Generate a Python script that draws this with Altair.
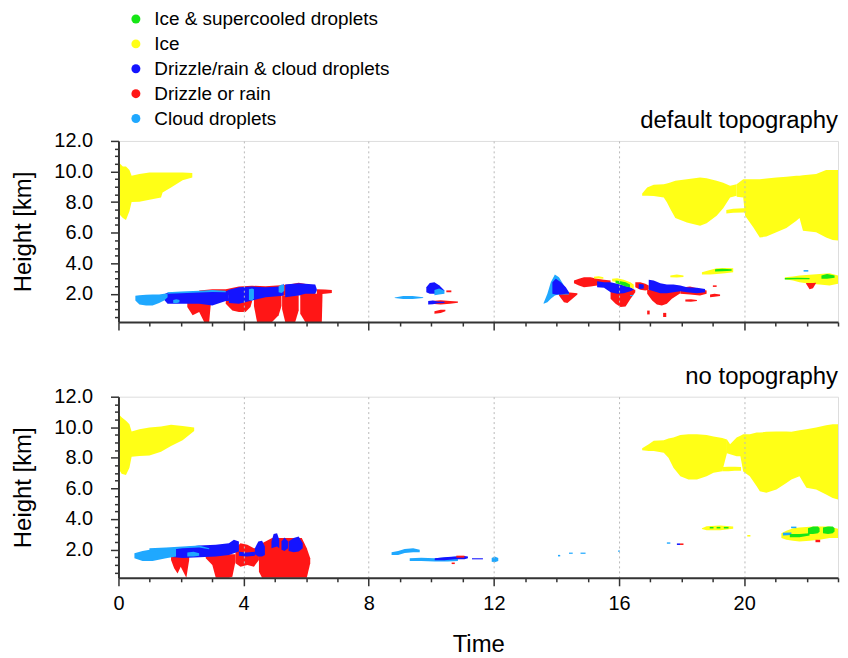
import altair as alt
import pandas as pd

# ---- categories / colours -------------------------------------------------
ICE_SC = "Ice & supercooled droplets"
ICE = "Ice"
DRZ_CLD = "Drizzle/rain & cloud droplets"
DRZ = "Drizzle or rain"
CLD = "Cloud droplets"
CATEGORIES = [ICE_SC, ICE, DRZ_CLD, DRZ, CLD]
COLORS = ["#16e616", "#ffff16", "#1414ff", "#ff1616", "#1fa8ff"]

PANEL_TITLES = ["default topography", "no topography"]

# each blob: (draw level, time [h], bottom height [km], top height [km])
TOP_ICE = [
    (0, [0, 0.05, 0.14, 0.24, 0.35, 0.42, 0.67, 0.99, 1.36, 1.41, 1.68, 2.05, 2.36],
        [7.3, 7.15, 6.95, 6.83, 7.4, 8.0, 8.02, 8.15, 8.3, 8.63, 8.96, 9.43, 9.6],
        [10.74, 10.5, 10.33, 10.33, 10.1, 9.72, 9.83, 9.93, 9.93, 9.93, 9.93, 9.93, 9.9]),
    (0, [16.74, 16.9, 17.11, 17.43, 17.53, 17.64, 17.8, 18.17, 18.59, 18.8, 19.12, 19.33, 19.55, 19.76],
        [8.41, 8.41, 8.39, 8.3, 7.98, 7.54, 6.95, 6.67, 6.45, 6.61, 7.11, 7.6, 8.3, 8.41],
        [8.56, 8.96, 9.13, 9.17, 9.22, 9.28, 9.39, 9.5, 9.61, 9.56, 9.39, 9.26, 9.06, 9.17]),
    (0, [19.76, 19.97, 20.03, 20.29, 20.5, 20.71, 21.03, 21.35, 21.67, 21.77, 21.88, 22.3, 22.62, 22.83, 23.0],
        [8.35, 8.3, 7.1, 6.35, 5.69, 5.74, 6.02, 6.3, 6.78, 6.95, 6.13, 6.02, 5.69, 5.52, 5.48],
        [9.17, 9.5, 9.5, 9.5, 9.5, 9.54, 9.61, 9.65, 9.72, 9.72, 9.76, 9.83, 10.09, 10.09, 10.09]),
    (0, [19.43, 19.65, 19.97, 20.03], [7.26, 7.3, 7.32, 7.32], [7.48, 7.56, 7.6, 7.6]),
    (2, [15.78, 15.94, 16.15, 16.36, 16.47], [2.82, 2.76, 2.6, 2.43, 2.32], [2.98, 3.02, 2.91, 2.76, 2.6]),
    (2, [15.2, 15.35, 15.5], [3.0, 3.0, 2.98], [3.12, 3.15, 3.08]),
    (2, [17.64, 17.85, 18.06], [3.08, 3.06, 3.1], [3.2, 3.26, 3.2]),
    (0, [18.65, 18.91, 19.12, 19.39, 19.65], [3.26, 3.26, 3.3, 3.34, 3.41], [3.41, 3.56, 3.67, 3.69, 3.67]),
    (0, [21.3, 21.56, 21.77, 22.09, 22.41, 22.73, 23.0], [2.95, 2.87, 2.76, 2.65, 2.6, 2.54, 2.65],
        [3.08, 3.13, 3.19, 3.24, 3.3, 3.34, 3.19]),
]
TOP_ICE_SC = [
    (3, [15.89, 16.05, 16.21, 16.35], [2.69, 2.6, 2.47, 2.43], [2.87, 2.82, 2.76, 2.6]),
    (3, [19.07, 19.3, 19.6], [3.45, 3.47, 3.5], [3.6, 3.63, 3.6]),
    (3, [21.3, 21.7, 22.09], [2.93, 2.95, 2.95], [3.03, 3.05, 3.03]),
    (3, [22.47, 22.65, 22.89], [2.98, 2.98, 3.05], [3.2, 3.3, 3.2]),
]
TOP_DRZ = [
    (0, [2.2, 2.37, 2.58, 2.74, 2.9, 2.95], [1.13, 0.6, 0.8, 0.15, 0.15, 1.3], [1.5] * 6),
    (0, [3.43, 3.64, 3.85, 4.06, 4.22, 4.27], [1.34, 0.91, 0.8, 0.8, 1.13, 1.5], [1.7] * 6),
    (0, [4.33, 4.43, 4.7, 4.91, 5.12, 5.21], [1.2, 0.15, 0.15, 0.15, 0.6, 1.2], [1.9] * 6),
    (0, [5.23, 5.33, 5.65, 5.76], [1.0, 0.15, 0.15, 0.9], [1.9] * 4),
    (0, [5.81, 5.97, 6.4, 6.5, 6.52], [0.7, 0.15, 0.15, 0.15, 1.75], [2.0] * 5),
    (0, [6.34, 6.6, 6.82], [1.95, 2.0, 2.05], [2.3, 2.28, 2.25]),
    (0, [2.58, 3.0, 3.43, 3.85, 4.27, 4.7, 5.18, 5.5, 5.76, 6.08, 6.29],
        [1.9] * 11, [2.21, 2.3, 2.3, 2.47, 2.52, 2.5, 2.55, 2.62, 2.72, 2.6, 2.45]),
    (0, [10.0, 10.3, 10.6, 10.85], [1.35, 1.3, 1.35, 1.42], [1.52, 1.58, 1.52, 1.5]),
    (0, [10.1, 10.3, 10.45], [0.7, 0.75, 0.85], [0.85, 0.95, 0.95]),
    (0, [10.48, 10.64], [2.1, 2.1], [2.22, 2.22]),
    (0, [14.08, 14.24, 14.35, 14.51, 14.67], [1.89, 1.45, 1.39, 1.67, 1.95], [2.04, 2.1, 2.1, 2.06, 2.04]),
    (0, [14.56, 14.72, 14.88, 15.09, 15.3, 15.52, 15.73], [2.69, 2.54, 2.43, 2.47, 2.54, 2.6, 2.65],
        [2.87, 2.98, 3.08, 3.08, 2.98, 2.91, 2.87]),
    (0, [15.73, 15.89, 16.05, 16.21, 16.37, 16.52], [1.67, 1.34, 1.13, 1.17, 1.67, 2.1],
        [2.43, 2.43, 2.43, 2.39, 2.32, 2.26]),
    (0, [16.52, 16.68, 16.84, 16.95], [2.43, 2.26, 2.21, 2.26], [2.76, 2.76, 2.65, 2.54]),
    (0, [16.9, 17.06, 17.21, 17.37, 17.53, 17.69, 17.85, 17.96], [2.0, 1.56, 1.3, 1.24, 1.34, 1.67, 1.89, 2.04],
        [2.25] * 8),
    (0, [17.96, 18.27, 18.59, 18.8], [2.0, 1.95, 1.89, 2.0], [2.39, 2.47, 2.32, 2.21]),
    (0, [18.12, 18.3, 18.49], [1.5, 1.48, 1.52], [1.62, 1.65, 1.6]),
    (0, [18.91, 19.05, 19.23], [1.78, 1.8, 1.85], [1.95, 2.0, 1.95]),
    (0, [16.9, 16.98], [0.65, 0.65], [0.9, 0.9]),
    (0, [17.41, 17.51], [0.48, 0.48], [0.75, 0.75]),
    (0, [19.0, 19.12], [2.45, 2.45], [2.55, 2.55]),
    (1, [21.98, 22.09, 22.2, 22.3], [2.65, 2.3, 2.36, 2.7], [2.7, 2.7, 2.7, 2.72]),
]
TOP_DRZ_CLD = [
    (1, [1.43, 1.57, 2.15, 2.58, 3.0, 3.43, 3.53], [1.67, 1.34, 1.34, 1.34, 1.24, 1.52, 1.52],
        [1.95, 2.06, 2.1, 2.15, 2.19, 2.15, 2.26]),
    (1, [3.53, 3.85, 4.27, 4.7, 5.18, 5.28], [1.39, 1.34, 1.56, 1.78, 1.85, 1.89], [2.26, 2.43, 2.47, 2.43, 2.47, 2.65]),
    (1, [5.33, 5.76, 5.97, 6.29, 6.34], [1.78, 1.89, 2.0, 2.0, 2.22], [2.6, 2.69, 2.65, 2.6, 2.3]),
    (1, [9.84, 9.95, 10.1, 10.26, 10.42], [2.1, 2.0, 2.0, 2.0, 2.2], [2.43, 2.7, 2.75, 2.54, 2.21]),
    (1, [9.9, 10.05, 10.2, 10.42], [1.3, 1.32, 1.38, 1.4], [1.52, 1.56, 1.5, 1.48]),
    (3, [13.87, 13.98, 14.14, 14.3, 14.4], [2.0, 1.95, 1.95, 2.0, 2.0], [2.76, 2.98, 2.76, 2.43, 2.1]),
    (1, [15.3, 15.52, 15.73, 15.94, 16.15, 16.36, 16.47], [2.43, 2.39, 2.1, 2.0, 2.04, 2.17, 2.26],
        [2.82, 2.76, 2.76, 2.65, 2.54, 2.43, 2.32]),
    (1, [16.63, 16.79], [2.32, 2.35], [2.65, 2.6]),
    (1, [16.95, 17.11, 17.32, 17.53, 17.74, 17.96, 18.17, 18.49, 18.75],
        [2.26, 2.17, 2.04, 2.04, 2.1, 2.17, 2.1, 2.04, 2.1],
        [2.91, 2.87, 2.69, 2.6, 2.6, 2.54, 2.43, 2.39, 2.32]),
]
TOP_CLD = [
    (1, [0.54, 0.67, 0.88, 1.09, 1.3, 1.46, 1.57], [1.56, 1.3, 1.24, 1.24, 1.39, 1.56, 1.78],
        [1.87, 1.91, 1.93, 1.95, 1.95, 2.0, 2.0]),
    (2, [1.57, 2.0, 2.58, 3.0, 3.43], [2.0, 2.03, 2.08, 2.12, 2.1], [2.1, 2.15, 2.2, 2.25, 2.2]),
    (2, [1.75, 1.85, 1.95], [1.4, 1.38, 1.45], [1.6, 1.65, 1.6]),
    (2, [4.17, 4.27, 4.33], [1.6, 1.55, 1.7], [2.3, 2.35, 2.3]),
    (2, [5.12, 5.22, 5.3], [2.1, 2.05, 2.2], [2.5, 2.6, 2.55]),
    (1, [8.83, 9.1, 9.4, 9.74], [1.72, 1.66, 1.66, 1.72], [1.76, 1.85, 1.85, 1.78]),
    (2, [10.1, 10.25, 10.42], [1.9, 1.95, 2.0], [2.25, 2.35, 2.2]),
    (1, [13.59, 13.71, 13.82, 13.95, 14.08, 14.24, 14.4], [1.34, 1.45, 1.67, 1.89, 1.95, 1.95, 1.95],
        [1.39, 2.0, 2.76, 3.26, 3.08, 2.54, 2.0]),
    (2, [16.35, 16.45], [1.85, 1.85], [1.92, 1.92]),
    (2, [21.9, 22.05], [3.45, 3.45], [3.55, 3.55]),
]

BOT_ICE = [
    (0, [0, 0.1, 0.24, 0.35, 0.42, 0.67, 0.99, 1.36, 1.68, 2.05, 2.42],
        [7.31, 6.96, 6.87, 7.35, 8.07, 8.12, 8.16, 8.4, 8.78, 9.15, 9.76],
        [10.86, 10.65, 10.42, 10.2, 9.72, 9.87, 9.98, 10.05, 10.16, 10.09, 9.98]),
    (0, [16.74, 16.95, 17.11, 17.43, 17.58, 17.74, 17.96, 18.22, 18.49, 18.8, 19.02, 19.3, 19.45],
        [8.49, 8.45, 8.45, 8.34, 8.01, 7.35, 6.8, 6.58, 6.58, 6.8, 7.02, 7.13, 8.3],
        [8.62, 8.89, 9.11, 9.15, 9.26, 9.33, 9.5, 9.55, 9.55, 9.5, 9.4, 9.3, 9.2]),
    (0, [19.45, 19.55, 19.76, 19.88, 19.97, 20.18, 20.4, 20.5, 20.71, 21.03, 21.35, 21.51, 21.77, 21.99,
         22.3, 22.62, 22.83, 23.0],
        [8.3, 8.23, 8.1, 8.1, 7.1, 6.8, 6.14, 5.82, 5.71, 5.93, 6.36, 6.58, 6.8, 6.04, 5.93, 5.6, 5.38, 5.27],
        [9.2, 8.89, 9.33, 9.45, 9.55, 9.55, 9.65, 9.65, 9.7, 9.72, 9.72, 9.7, 9.81, 9.87, 9.98, 10.14,
         10.2, 10.2]),
    (0, [19.3, 19.5, 19.7, 19.9], [7.13, 7.13, 7.15, 7.15], [7.4, 7.42, 7.42, 7.4]),
    (0, [18.65, 18.8, 19.23, 19.65], [3.34, 3.27, 3.27, 3.36], [3.4, 3.53, 3.58, 3.51]),
    (0, [20.1, 20.2], [2.85, 2.85], [2.95, 2.95]),
    (0, [21.19, 21.35, 21.56, 21.77, 22.09, 22.41, 22.73, 23.0], [2.75, 2.64, 2.57, 2.53, 2.57, 2.64, 2.75, 2.75],
        [3.07, 3.23, 3.4, 3.45, 3.49, 3.51, 3.51, 3.36]),
]
BOT_ICE_SC = [
    (3, [18.9, 19.02], [3.38, 3.38], [3.48, 3.48]),
    (3, [19.12, 19.24], [3.38, 3.38], [3.48, 3.48]),
    (3, [19.35, 19.5], [3.38, 3.38], [3.48, 3.48]),
    (3, [21.46, 21.77, 22.09], [2.81, 2.81, 2.92], [3.01, 3.01, 3.07]),
    (3, [22.04, 22.2, 22.36, 22.41], [3.01, 3.01, 3.07, 3.18], [3.4, 3.51, 3.51, 3.4]),
    (3, [22.52, 22.68, 22.83, 22.89], [3.07, 3.01, 3.07, 3.18], [3.45, 3.51, 3.51, 3.4]),
]
BOT_DRZ = [
    (0, [1.68, 1.78, 1.89, 1.99, 2.1, 2.17, 2.26], [1.32, 0.77, 0.44, 0.88, 0.44, 0.15, 1.32], [1.6] * 7),
    (0, [2.79, 3.0, 3.11, 3.32, 3.53, 3.64, 3.74], [1.43, 0.99, 0.15, 0.15, 0.15, 0.22, 1.21], [1.7] * 7),
    (0, [3.74, 3.9, 4.12, 4.33, 4.49], [1.1, 0.88, 0.99, 0.88, 1.32], [2.09, 2.42, 2.31, 2.09, 2.09]),
    (0, [4.49, 4.59, 4.91, 5.18, 5.23, 5.55, 5.86, 6.02, 6.13],
        [0.55, 0.15, 0.15, 0.15, 0.15, 0.15, 0.15, 0.15, 1.1],
        [2.09, 2.42, 2.75, 2.75, 2.75, 2.75, 2.75, 2.09, 1.43]),
    (3, [10.8, 11.06], [1.47, 1.47], [1.6, 1.6]),
    (0, [10.65, 10.75], [1.05, 1.05], [1.15, 1.15]),
    (1, [17.95, 18.06], [2.3, 2.3], [2.4, 2.4]),
    (2, [22.28, 22.43], [2.48, 2.48], [2.64, 2.64]),
]
BOT_DRZ_CLD = [
    (1, [1.09, 1.52, 2.05, 2.58, 3.11, 3.53, 3.69, 3.85], [1.65, 1.54, 1.45, 1.5, 1.54, 1.65, 1.76, 1.87],
        [1.87, 1.98, 2.13, 2.26, 2.31, 2.42, 2.64, 2.53]),
    (1, [3.85, 4.1, 4.36], [1.6, 1.55, 1.6], [1.85, 1.8, 1.85]),
    (1, [4.36, 4.47, 4.59, 4.68], [1.69, 1.54, 1.54, 1.65], [2.09, 2.53, 2.57, 2.2]),
    (1, [4.89, 4.96, 5.07, 5.14], [2.09, 2.13, 2.2, 2.09], [2.53, 3.01, 3.07, 2.64]),
    (1, [5.21, 5.31, 5.42], [1.98, 1.91, 2.09], [2.53, 2.79, 2.53]),
    (1, [5.44, 5.6, 5.76, 5.89], [1.91, 1.82, 1.87, 2.09], [2.53, 2.75, 2.86, 2.42]),
    (2, [10.11, 10.42, 10.75, 11.06, 11.17], [1.3, 1.3, 1.37, 1.37, 1.43], [1.43, 1.5, 1.54, 1.58, 1.54]),
    (1, [11.3, 11.65], [1.36, 1.36], [1.43, 1.43]),
    (1, [17.85, 17.95], [2.3, 2.3], [2.4, 2.4]),
]
BOT_CLD = [
    (1, [0.51, 0.77, 1.09, 1.52, 1.84], [1.43, 1.25, 1.25, 1.43, 1.54], [1.76, 1.91, 2.02, 2.04, 2.09]),
    (2, [0.99, 1.52, 2.05, 2.58, 2.9], [1.87, 1.96, 2.09, 2.13, 2.02], [2.09, 2.13, 2.2, 2.26, 2.09]),
    (2, [2.2, 2.4, 2.58], [1.55, 1.55, 1.6], [1.8, 1.85, 1.75]),
    (1, [8.73, 8.94, 9.15, 9.42, 9.63], [1.65, 1.65, 1.78, 1.82, 1.82], [1.82, 1.91, 2.04, 2.09, 1.98]),
    (1, [9.31, 9.68, 10.11, 10.53, 10.85], [1.25, 1.25, 1.21, 1.21, 1.25], [1.43, 1.47, 1.43, 1.5, 1.54]),
    (1, [11.93, 12.03, 12.14], [1.2, 1.17, 1.25], [1.45, 1.54, 1.45]),
    (1, [14.05, 14.12], [1.55, 1.55], [1.65, 1.65]),
    (1, [14.4, 14.52], [1.72, 1.72], [1.8, 1.8]),
    (1, [14.77, 14.93], [1.72, 1.72], [1.8, 1.8]),
    (1, [15.97, 16.03], [1.86, 1.86], [1.94, 1.94]),
    (1, [17.53, 17.64], [2.38, 2.38], [2.47, 2.47]),
    (2, [21.24, 21.51], [2.92, 2.95], [3.1, 3.12]),
    (2, [21.5, 21.67], [3.4, 3.4], [3.5, 3.5]),
]

GROUPS = [
    (0, ICE, TOP_ICE), (0, ICE_SC, TOP_ICE_SC), (0, DRZ, TOP_DRZ), (0, DRZ_CLD, TOP_DRZ_CLD), (0, CLD, TOP_CLD),
    (1, ICE, BOT_ICE), (1, ICE_SC, BOT_ICE_SC), (1, DRZ, BOT_DRZ), (1, DRZ_CLD, BOT_DRZ_CLD), (1, CLD, BOT_CLD),
]

rows = []
for panel, cat, blobs in GROUPS:
    for i, (z, ts, los, his) in enumerate(blobs):
        bid = f"{panel}-{cat}-{i}"
        for t, lo, hi in zip(ts, los, his):
            rows.append({"panel": panel, "cat": cat, "blob": bid, "z": z, "t": t, "lo": lo, "hi": hi})
df = pd.DataFrame(rows)

FONT = "Liberation Sans"
xscale = alt.Scale(domain=[0, 23], nice=False, zero=False)
yscale = alt.Scale(domain=[0.15, 12], nice=False, zero=False)
cscale = alt.Scale(domain=CATEGORIES, range=COLORS)

X_MAJOR = "datum.value % 4 === 0"
Y_MAJOR = "datum.value % 2 === 0"


def x_axis(bottom):
    kw = dict(
        values=list(range(0, 24)),
        tickSize={"condition": {"test": X_MAJOR, "value": 8}, "value": 4},
        grid=True,
        gridColor="#b8b8b8",
        gridDash=[2, 3],
        gridWidth=1,
        gridOpacity={"condition": {"test": X_MAJOR + " && datum.value > 0", "value": 1}, "value": 0},
        domainColor="#333333", domainWidth=2, tickColor="#333333", tickWidth=1.5,
        labelFlush=False, labelOverlap=False, zindex=1,
    )
    if bottom:
        kw.update(
            labelExpr=X_MAJOR + " ? datum.label : ''",
            labelFont=FONT, labelFontSize=20, labelColor="black", labelPadding=8,
            title="Time", titleFont=FONT, titleFontSize=24, titleFontWeight="normal",
            titleColor="black", titlePadding=19,
        )
    else:
        kw.update(labels=False, title=None)
    return alt.Axis(**kw)


y_axis = alt.Axis(
    values=[0.5 * k for k in range(1, 25)],
    tickSize={"condition": {"test": Y_MAJOR, "value": 8}, "value": 4},
    labelExpr=Y_MAJOR + " ? format(datum.value, '.1f') : ''",
    labelFont=FONT, labelFontSize=20, labelColor="black", labelPadding=18,
    domainColor="#333333", domainWidth=2, tickColor="#333333", tickWidth=1.5,
    grid=False, labelOverlap=False, labelFlush=False, zindex=1,
    title="Height [km]", titleFont=FONT, titleFontSize=24, titleFontWeight="normal",
    titleColor="black", titlePadding=18,
)

legend = alt.Legend(
    orient="none", legendX=8, legendY=-132, title=None, direction="vertical",
    symbolType="circle", symbolSize=81, symbolStrokeWidth=0, symbolOpacity=1,
    labelFont=FONT, labelFontSize=19, labelColor="black", labelOffset=9, labelLimit=500,
    rowPadding=5, padding=0,
)


def panel_chart(panel):
    base = alt.Chart(df).transform_filter(alt.datum.panel == panel)
    layers = []
    for z in range(4):
        layers.append(
            base.transform_filter(alt.datum.z == z)
            .mark_area(interpolate="linear", opacity=1, strokeWidth=0)
            .encode(
                x=alt.X("t:Q", scale=xscale, axis=x_axis(panel == 1)),
                y=alt.Y("lo:Q", scale=yscale, axis=y_axis),
                y2="hi:Q",
                color=alt.Color("cat:N", scale=cscale, legend=legend),
                detail="blob:N",
            )
        )
    return alt.layer(*layers).properties(
        width=723, height=182,
        title=alt.TitleParams(PANEL_TITLES[panel], anchor="end", frame="group", fontSize=24,
                              fontWeight="normal", font=FONT, color="black", offset=-2),
    )


chart = (
    alt.vconcat(panel_chart(0), panel_chart(1), spacing=32)
    .properties(padding={"left": 3, "top": 0, "right": 0, "bottom": 0})
    .configure_view(stroke=None)
    .configure(font=FONT)
)

chart.save("out.html", embed_options={"renderer": "svg", "actions": False})
